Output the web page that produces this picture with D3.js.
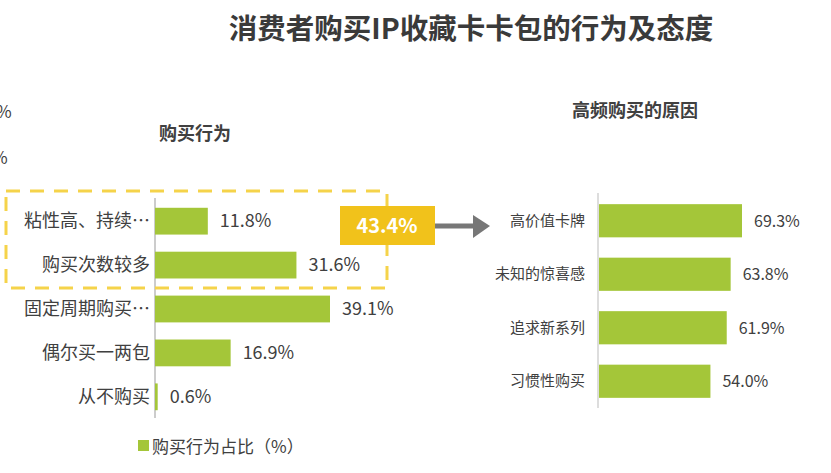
<!DOCTYPE html>
<html><head><meta charset="utf-8">
<script src="https://cdn.jsdelivr.net/npm/d3@7"></script>
<style>body{margin:0;background:#fff}text{font-family:"Noto Sans CJK SC","Noto Sans",sans-serif}</style>
</head><body><svg id="c" width="831" height="473"></svg>
<script>
const leftCats=["粘性高、持续…","购买次数较多","固定周期购买…","偶尔买一两包","从不购买"];
const leftVals=[11.8,31.6,39.1,16.9,0.6];
const rightCats=["高价值卡牌","未知的惊喜感","追求新系列","习惯性购买"];
const rightVals=[69.3,63.8,61.9,54.0];
const highlight="43.4%";
const green="#a4c639", grey="#404040";
const svg=d3.select("#c");
svg.append("text").attr("x",471).attr("y",39).attr("text-anchor","middle").attr("font-size",28.5).attr("font-weight","bold").attr("fill","#3a3a3a").text("消费者购买IP收藏卡卡包的行为及态度");
svg.append("text").attr("x",-4).attr("y",118).attr("font-size",17).attr("fill",grey).text("%");
svg.append("text").attr("x",-8).attr("y",164).attr("font-size",17).attr("fill",grey).text("%");
svg.append("text").attr("x",195).attr("y",140).attr("text-anchor","middle").attr("font-size",18).attr("font-weight","bold").attr("fill",grey).text("购买行为");
svg.append("text").attr("x",635).attr("y",117).attr("text-anchor","middle").attr("font-size",18).attr("font-weight","bold").attr("fill",grey).text("高频购买的原因");
// left
const lx=d3.scaleLinear().domain([0,39.1]).range([155,330]);
const ly=d3.scaleBand().domain(leftCats).range([199,419]).paddingInner(0.39).paddingOuter(0.2);
svg.append("line").attr("x1",155).attr("x2",155).attr("y1",198).attr("y2",418).attr("stroke","#999");
leftCats.forEach((c,i)=>{
  const y=ly(c),h=ly.bandwidth();
  svg.append("rect").attr("x",lx(0)).attr("y",y).attr("width",Math.max(lx(leftVals[i])-lx(0),2)).attr("height",h).attr("fill",green);
  svg.append("text").attr("x",150).attr("y",y+h/2+6).attr("text-anchor","end").attr("font-size",18).attr("fill",grey).text(c);
  svg.append("text").attr("x",Math.max(lx(leftVals[i]),157)+12).attr("y",y+h/2+6).attr("font-size",18).attr("fill",grey).text(leftVals[i].toFixed(1)+"%");
});
svg.append("rect").attr("x",6).attr("y",191).attr("width",381).attr("height",97).attr("fill","none").attr("stroke","#f5d34a").attr("stroke-width",3).attr("stroke-dasharray","14,10");
svg.append("rect").attr("x",340).attr("y",206).attr("width",95).attr("height",39).attr("fill","#f1c21b");
svg.append("text").attr("x",387).attr("y",233).attr("text-anchor","middle").attr("font-size",20).attr("font-weight","bold").attr("fill","#fff").text(highlight);
svg.append("line").attr("x1",435).attr("x2",477).attr("y1",226).attr("y2",226).attr("stroke","#777").attr("stroke-width",5);
svg.append("path").attr("d","M473,215 L490,226 L473,238 Z").attr("fill","#777");
// right
const rx=d3.scaleLinear().domain([0,69.3]).range([599,742]);
const ry=d3.scaleBand().domain(rightCats).range([194,408]).paddingInner(0.38).paddingOuter(0.19);
svg.append("line").attr("x1",598).attr("x2",598).attr("y1",193).attr("y2",408).attr("stroke","#bbb");
rightCats.forEach((c,i)=>{
  const y=ry(c),h=ry.bandwidth();
  svg.append("rect").attr("x",rx(0)).attr("y",y).attr("width",rx(rightVals[i])-rx(0)).attr("height",h).attr("fill",green);
  svg.append("text").attr("x",585).attr("y",y+h/2+5).attr("text-anchor","end").attr("font-size",15).attr("fill",grey).text(c);
  svg.append("text").attr("x",rx(rightVals[i])+12).attr("y",y+h/2+6).attr("font-size",16).attr("fill",grey).text(rightVals[i].toFixed(1)+"%");
});
// legend
svg.append("rect").attr("x",138).attr("y",440).attr("width",11).attr("height",11).attr("fill",green);
svg.append("text").attr("x",152).attr("y",453).attr("font-size",17).attr("fill",grey).text("购买行为占比（%）");
</script></body></html>
